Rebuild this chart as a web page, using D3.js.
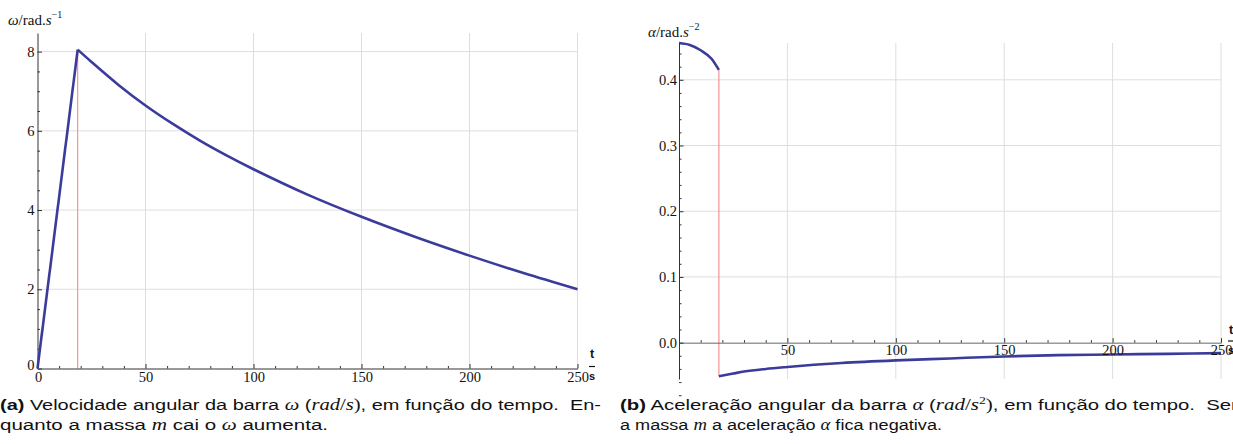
<!DOCTYPE html>
<html><head><meta charset="utf-8">
<script src="https://cdn.jsdelivr.net/npm/d3@7"></script>
<style>
html,body{margin:0;padding:0;background:#fff;}
svg{display:block;}
</style>
</head><body>
<script>
// ---- data ----
const tRise = [0, 18.6];
const omegaRise = [0, 8.05];
const tDecay = [18.6, 25, 37.5, 50, 62.5, 75, 87.5, 100, 125, 150, 175, 200, 225, 250];
const omegaDecay = [8.05, 7.74, 7.16, 6.64, 6.18, 5.76, 5.38, 5.03, 4.39, 3.83, 3.32, 2.85, 2.41, 2.0];
const tAlphaPos = [0, 5, 10, 15, 18.4];
const alphaPos = [0.456, 0.453, 0.445, 0.432, 0.415];
const tAlphaNeg = [18.4, 25, 30, 40, 50, 75, 100, 125, 150, 175, 200, 225, 250];
const alphaNeg = [-0.051, -0.047, -0.044, -0.040, -0.037, -0.031, -0.027, -0.024, -0.021, -0.019, -0.018, -0.017, -0.016];
const tSwitchA = 18.6, tSwitchB = 18.4;
const xTicks = [0, 50, 100, 150, 200, 250];
const xTicksB = [50, 100, 150, 200, 250];
const omegaTicks = [0, 2, 4, 6, 8];
const alphaTicks = [0.0, 0.1, 0.2, 0.3, 0.4];

const BLUE = "#3b3b9b", RED = "#f28b8b", GRID = "#dedede";
const serif = '"Liberation Serif", "DejaVu Serif", serif';
const sans = '"Liberation Sans", Arial, sans-serif';

const svg = d3.select("body").append("svg").attr("width", 1233).attr("height", 444);
svg.append("rect").attr("width", 1233).attr("height", 444).attr("fill", "#fff");

function zip(a, b){ return a.map((v, i) => [v, b[i]]); }
function styleAxis(g, col){
  g.attr("font-family", serif).attr("font-size", 14.5);
  g.select(".domain").attr("stroke", col || "#333");
  g.selectAll(".tick line").attr("stroke", col || "#333");
  g.selectAll(".tick text").attr("fill", "#111");
}

// ================= LEFT CHART =================
const xA = d3.scaleLinear([0, 250], [37.5, 577.5]);
const yA = d3.scaleLinear([0, 8.47], [368.5, 33]);
const gA = svg.append("g");

gA.selectAll(".gv").data(xTicks.slice(1)).join("line")
  .attr("x1", d => xA(d)).attr("x2", d => xA(d)).attr("y1", yA(0)).attr("y2", yA.range()[1])
  .attr("stroke", GRID).attr("stroke-width", 1);
gA.selectAll(".gh").data(omegaTicks.slice(1)).join("line")
  .attr("x1", xA(0)).attr("x2", xA(250)).attr("y1", d => yA(d)).attr("y2", d => yA(d))
  .attr("stroke", GRID).attr("stroke-width", 1);

gA.append("line").attr("x1", xA(tSwitchA)).attr("x2", xA(tSwitchA))
  .attr("y1", yA(0)).attr("y2", yA(omegaRise[1])).attr("stroke", RED).attr("stroke-width", 1.1);

const axXA = gA.append("g").attr("transform", `translate(0,${yA(0)})`)
  .call(d3.axisBottom(xA).tickValues(xTicks).tickSize(-4.5).tickPadding(3).tickSizeOuter(0).tickFormat(d3.format("d")));
styleAxis(axXA);
const axXAm = gA.append("g").attr("transform", `translate(0,${yA(0)})`)
  .call(d3.axisBottom(xA).tickValues(d3.range(10, 250, 10).filter(v => v % 50)).tickSize(-2.5).tickSizeOuter(0).tickFormat(""));
styleAxis(axXAm); axXAm.select(".domain").remove();
const axYA = gA.append("g").attr("transform", `translate(${xA(0)},0)`)
  .call(d3.axisLeft(yA).tickValues(omegaTicks).tickSize(-4.5).tickPadding(3).tickSizeOuter(0).tickFormat(d3.format("d")));
styleAxis(axYA);
const axYAm = gA.append("g").attr("transform", `translate(${xA(0)},0)`)
  .call(d3.axisLeft(yA).tickValues(d3.range(0.5, 8.5, 0.5).filter(v => v % 2)).tickSize(-2.5).tickSizeOuter(0).tickFormat(""));
styleAxis(axYAm); axYAm.select(".domain").remove();
axYA.selectAll(".tick text").filter(d => d === 0).attr("dy", "0.1em");
axXA.selectAll(".tick text").filter(d => d === 0).attr("dx", "0.05em");

const lineA = d3.line().x(d => xA(d[0])).y(d => yA(d[1]));
gA.append("path").attr("d", lineA(zip(tRise, omegaRise)))
  .attr("fill", "none").attr("stroke", BLUE).attr("stroke-width", 2.6).attr("stroke-linejoin", "round");
gA.append("path").attr("d", lineA.curve(d3.curveCatmullRom.alpha(0.5))(zip(tDecay, omegaDecay)))
  .attr("fill", "none").attr("stroke", BLUE).attr("stroke-width", 2.6).attr("stroke-linejoin", "round");

const lblA = svg.append("text").attr("x", 8).attr("y", 25).attr("font-family", serif).attr("font-size", 15).attr("fill", "#111");
lblA.append("tspan").attr("font-style", "italic").text("ω");
lblA.append("tspan").text("/rad.");
lblA.append("tspan").attr("font-style", "italic").text("s");
lblA.append("tspan").attr("dy", -7).attr("font-size", 10).text("−1");

function tsLabel(x, yT, yBar, yS){
  svg.append("text").attr("x", x).attr("y", yT).attr("text-anchor", "middle")
    .attr("font-family", sans).attr("font-weight", "bold").attr("font-size", 12.5).attr("fill", "#111").text("t");
  svg.append("line").attr("x1", x - 3).attr("x2", x + 3).attr("y1", yBar).attr("y2", yBar).attr("stroke", "#111").attr("stroke-width", 1.2);
  svg.append("text").attr("x", x).attr("y", yS).attr("text-anchor", "middle")
    .attr("font-family", sans).attr("font-weight", "bold").attr("font-size", 11).attr("fill", "#111").text("s");
}
tsLabel(592, 358, 366.5, 380);

// ================= RIGHT CHART =================
const xB = d3.scaleLinear([0, 250], [679, 1221]);
const yB = d3.scaleLinear([-0.0553, 0.456], [379, 43]);
const gB = svg.append("g");

gB.selectAll(".gv").data(xTicksB).join("line")
  .attr("x1", d => xB(d)).attr("x2", d => xB(d)).attr("y1", yB.range()[0]).attr("y2", yB.range()[1])
  .attr("stroke", GRID).attr("stroke-width", 1);
gB.selectAll(".gh").data(alphaTicks.slice(1)).join("line")
  .attr("x1", xB(0)).attr("x2", xB(250)).attr("y1", d => yB(d)).attr("y2", d => yB(d))
  .attr("stroke", GRID).attr("stroke-width", 1);

gB.append("line").attr("x1", xB(tSwitchB)).attr("x2", xB(tSwitchB))
  .attr("y1", yB(alphaPos[alphaPos.length - 1])).attr("y2", yB(alphaNeg[0])).attr("stroke", RED).attr("stroke-width", 1.1);

const lineB = d3.line().x(d => xB(d[0])).y(d => yB(d[1])).curve(d3.curveMonotoneX);
gB.append("path").attr("d", lineB(zip(tAlphaPos, alphaPos)))
  .attr("fill", "none").attr("stroke", BLUE).attr("stroke-width", 2.6);
gB.append("path").attr("d", lineB(zip(tAlphaNeg, alphaNeg)))
  .attr("fill", "none").attr("stroke", BLUE).attr("stroke-width", 2.6);

const axXB = gB.append("g").attr("transform", `translate(0,${yB(0)})`)
  .call(d3.axisBottom(xB).tickValues(xTicksB).tickSize(-4.5).tickPadding(2).tickSizeOuter(0).tickFormat(d3.format("d")));
styleAxis(axXB, "#666");
axXB.selectAll(".tick line").attr("stroke", "#333");
const axXBm = gB.append("g").attr("transform", `translate(0,${yB(0)})`)
  .call(d3.axisBottom(xB).tickValues(d3.range(10, 250, 10).filter(v => v % 50)).tickSize(-2.5).tickSizeOuter(0).tickFormat(""));
styleAxis(axXBm, "#333"); axXBm.select(".domain").remove();
const axYB = gB.append("g").attr("transform", `translate(${xB(0)},0)`)
  .call(d3.axisLeft(yB).tickValues(alphaTicks).tickSize(-4.5).tickPadding(2).tickSizeOuter(0).tickFormat(d3.format(".1f")));
styleAxis(axYB);
const minorB = d3.range(-5, 23).map(i => i * 0.02).filter(v => Math.abs(v * 10 - Math.round(v * 10)) > 1e-6);
const axYBm = gB.append("g").attr("transform", `translate(${xB(0)},0)`)
  .call(d3.axisLeft(yB).tickValues(minorB).tickSize(-2.5).tickSizeOuter(0).tickFormat(""));
styleAxis(axYBm); axYBm.select(".domain").remove();

const lblB = svg.append("text").attr("x", 648).attr("y", 37).attr("font-family", serif).attr("font-size", 15).attr("fill", "#111");
lblB.append("tspan").attr("font-style", "italic").text("α");
lblB.append("tspan").text("/rad.");
lblB.append("tspan").attr("font-style", "italic").text("s");
lblB.append("tspan").attr("dy", -7).attr("font-size", 10).text("−2");

tsLabel(1231, 334, 341, 354);

// ================= CAPTIONS =================
function caption(x, y, parts, len){
  const t = svg.append("text").attr("x", x).attr("y", y).attr("font-family", sans).attr("font-size", 15.5).attr("fill", "#111")
    .attr("xml:space", "preserve").style("white-space", "pre");
  parts.forEach(p => {
    const s = t.append("tspan").text(p[0]);
    if (p[1] === "b") s.attr("font-weight", "bold");
    if (p[1] === "mi") s.attr("font-family", serif).attr("font-style", "italic").attr("font-size", 16);
    if (p[1] === "m") s.attr("font-family", serif).attr("font-size", 16);
    if (p[1] === "sup") s.attr("font-family", serif).attr("font-size", 10.5).attr("dy", -6);
    if (p[1] === "unsup") s.attr("font-family", serif).attr("font-size", 16).attr("dy", 6);
  });
  if (len) t.attr("textLength", len).attr("lengthAdjust", "spacingAndGlyphs");
  return t;
}
caption(0, 410, [["(a)", "b"], [" Velocidade angular da barra "], ["ω", "mi"], [" ("], ["rad", "mi"], ["/", "m"], ["s", "mi"], [")", "m"], [", em função do tempo.  En-"]], 601);
caption(0, 430, [["quanto a massa "], ["m", "mi"], [" cai o "], ["ω", "mi"], [" aumenta."]], 328);
caption(620, 410, [["(b)", "b"], [" Aceleração angular da barra "], ["α", "mi"], [" ("], ["rad", "mi"], ["/", "m"], ["s", "mi"], ["2", "sup"], [")", "unsup"], [", em função do tempo.  Sem"]], 628);
caption(620, 430, [["a massa "], ["m", "mi"], [" a aceleração "], ["α", "mi"], [" fica negativa."]], 322);
</script>
</body></html>
